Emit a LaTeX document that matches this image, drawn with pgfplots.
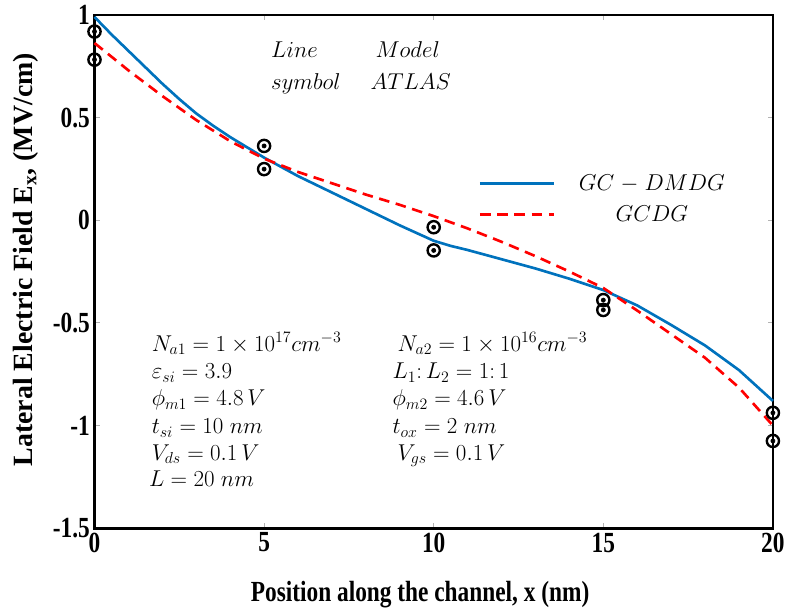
\documentclass[border=0pt]{standalone}
\usepackage{fontspec}
\setmainfont{Liberation Serif}
\newfontfamily\condfont[FakeStretch=0.8]{Liberation Serif}
\usepackage{pgfplots}
\pgfplotsset{compat=1.18}
\usetikzlibrary{calc}
\definecolor{mblue}{RGB}{0,114,189}
\newcommand{\tfont}{\fontsize{22}{25}\selectfont\condfont\bfseries}
\newcommand{\yfont}{\fontsize{21}{25}\selectfont\bfseries}
\newcommand{\afont}{\fontsize{17}{20}\selectfont}
\begin{document}
\begin{tikzpicture}
\begin{axis}[name=ax, scale only axis, width=511.5pt, height=387pt,
  xmin=0, xmax=20, ymin=-1.5, ymax=1,
  xtick={0,5,10,15,20}, xticklabels={0,5,10,15,20},
  ytick={-1.5,-1,-0.5,0,0.5,1}, yticklabels={-1.5,-1,-0.5,0,0.5,1},
  ticklabel style={font=\tfont},
  tick align=inside, major tick length=4pt,
  tick style={gray!60, line width=0.6pt},
  axis line style={line width=2pt, black},
  xlabel={Position along the channel, x (nm)},
  ylabel={Lateral Electric Field E\textsubscript{x}, (MV/cm)},
  xlabel style={font=\tfont, at={(axis description cs:0.48,-0.13)}, anchor=center},
  ylabel style={font=\yfont, at={(axis description cs:-0.1017,0.523)}, anchor=center},
  clip=false,
  legend style={at={(axis cs:11.2,0.25)}, anchor=north west, draw=none, fill=none,
    font=\afont, row sep=6pt},
  legend cell align=center,
  legend image code/.code={\draw[#1] (0cm,0cm) -- (1.95cm,0cm);},
  legend style={nodes={text width=5.0cm, align=center}},
]
\addplot[mblue, line width=2pt] coordinates {
(0,0.99) (0.5,0.905) (1,0.825) (1.5,0.745) (2,0.665) (2.5,0.59) (3,0.52) (3.5,0.46)
(4,0.405) (4.5,0.355) (5,0.305) (6,0.215) (7,0.135) (8,0.055) (9,-0.025) (10,-0.10)
(10.5,-0.125) (11,-0.145) (12,-0.19) (13,-0.235) (14,-0.285) (15,-0.34) (16,-0.415)
(17,-0.51) (18,-0.61) (19,-0.73) (20,-0.88)};
\addlegendentry{$GC-DMDG$}
\addplot[red, line width=2pt, dash pattern=on 8pt off 5pt] coordinates {
(0,0.863) (1,0.73) (2,0.605) (3,0.488) (4,0.385) (5,0.30) (6,0.235) (7,0.18)
(8,0.125) (9,0.075) (10,0.02) (11,-0.04) (12,-0.105) (13,-0.175) (14,-0.25)
(15,-0.33) (16,-0.44) (17,-0.555) (18,-0.67) (19,-0.815) (20,-1.0)};
\addlegendentry{$GCDG$}
\addplot[only marks, mark=o, mark size=4.6pt, black, mark options={line width=1.8pt}, forget plot] coordinates {
(0,0.919) (0,0.782) (5,0.362) (5,0.249) (10,-0.034) (10,-0.147) (15,-0.389) (15,-0.437) (20,-0.938) (20,-1.075)};
\addplot[only marks, mark=*, mark size=1.6pt, black, forget plot] coordinates {
(0,0.919) (0,0.782) (5,0.362) (5,0.249) (10,-0.034) (10,-0.147) (15,-0.389) (15,-0.437) (20,-0.938) (20,-1.075)};
\node[anchor=base west, font=\afont] at (axis cs:5.07,0.792) {$Line$};
\node[anchor=base west, font=\afont] at (axis cs:5.07,0.637) {$symbol$};
\node[anchor=base west, font=\afont] at (axis cs:8.15,0.792) {$Model$};
\node[anchor=base west, font=\afont] at (axis cs:8.0,0.637) {$ATLAS$};
\node[anchor=base west, font=\afont] at (axis cs:1.55,-0.638) {$N_{a1}=1\times10^{17}cm^{-3}$};
\node[anchor=base west, font=\afont] at (axis cs:1.55,-0.773) {$\varepsilon_{si}=3.9$};
\node[anchor=base west, font=\afont] at (axis cs:1.55,-0.904) {$\phi_{m1}=4.8\,V$};
\node[anchor=base west, font=\afont] at (axis cs:1.55,-1.04) {$t_{si}=10\;nm$};
\node[anchor=base west, font=\afont] at (axis cs:1.55,-1.17) {$V_{ds}=0.1\,V$};
\node[anchor=base west, font=\afont] at (axis cs:1.47,-1.297) {$L=20\;nm$};
\node[anchor=base west, font=\afont] at (axis cs:8.80,-0.638) {$N_{a2}=1\times10^{16}cm^{-3}$};
\node[anchor=base west, font=\afont] at (axis cs:8.65,-0.773) {$L_1{:}\,L_2=1{:}\,1$};
\node[anchor=base west, font=\afont] at (axis cs:8.65,-0.904) {$\phi_{m2}=4.6\,V$};
\node[anchor=base west, font=\afont] at (axis cs:8.65,-1.04) {$t_{ox}=2\;nm$};
\node[anchor=base west, font=\afont] at (axis cs:8.80,-1.17) {$V_{gs}=0.1\,V$};
\end{axis}
\path ($(ax.south west)+(-71.25pt,-57pt)$) rectangle ($(ax.north east)+(9pt,11.25pt)$);
\end{tikzpicture}
\end{document}
